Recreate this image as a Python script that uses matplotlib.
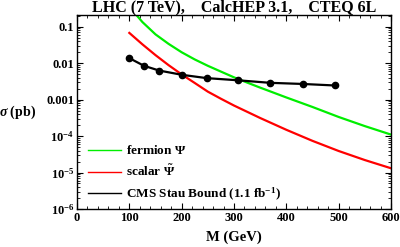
import matplotlib
matplotlib.use("Agg")
import matplotlib.pyplot as plt
from matplotlib.lines import Line2D
from matplotlib.ticker import FixedLocator, MultipleLocator, LogLocator, NullFormatter

# curves (M in GeV, sigma in pb)
m_fermion = [113, 125, 150, 175, 200, 225, 250, 275, 300, 325, 350, 375, 400, 450, 500, 550, 600]
sig_fermion = [0.215, 0.135, 0.062, 0.034, 0.020, 0.0127, 0.0085, 0.0059, 0.0041, 0.00295,
               0.00214, 0.00157, 0.00115, 0.00063, 0.000335, 0.000188, 0.00011]

m_scalar = [100, 125, 150, 175, 200, 225, 250, 275, 300, 350, 400, 450, 500, 550, 600]
sig_scalar = [0.068, 0.033, 0.0167, 0.00886, 0.00493, 0.00287, 0.00166, 0.00106, 0.00069,
              0.000314, 0.000149, 7.4e-5, 3.9e-5, 2.2e-5, 1.31e-5]

m_cms = [100, 128, 157, 201, 248, 308, 369, 431, 493]
sig_cms = [0.0138, 0.0085, 0.0063, 0.0048, 0.0039, 0.0034, 0.0029, 0.0027, 0.00245]

plt.rcParams['font.family'] = ['Liberation Serif', 'DejaVu Serif']
plt.rcParams['font.weight'] = 'bold'
plt.rcParams['mathtext.fontset'] = 'custom'
plt.rcParams['mathtext.rm'] = 'Liberation Serif:bold'
plt.rcParams['mathtext.it'] = 'Liberation Serif:italic:bold'
plt.rcParams['mathtext.bf'] = 'Liberation Serif:bold'

fig = plt.figure(figsize=(4, 2.47), dpi=100)
ax = fig.add_axes([0.1925, 0.154, 0.785, 0.785])

ax.plot(m_fermion, sig_fermion, color='#00ee00', lw=1.6)
ax.plot(m_scalar, sig_scalar, color='#ff0000', lw=1.6)
ax.plot(m_cms, sig_cms, color='black', lw=1.6, marker='o', ms=4.5)

ax.set_yscale('log')
ax.set_xlim(0, 600)
ax.set_ylim(1e-6, 0.21)

ax.xaxis.set_major_locator(MultipleLocator(100))
ax.xaxis.set_minor_locator(MultipleLocator(20))
ax.yaxis.set_major_locator(FixedLocator([1e-6, 1e-5, 1e-4, 1e-3, 1e-2, 1e-1]))
ax.yaxis.set_minor_locator(LogLocator(base=10, subs=range(2, 10)))
ax.yaxis.set_minor_formatter(NullFormatter())
ax.set_yticklabels([r'$10^{-6}$', r'$10^{-5}$', r'$10^{-4}$', '0.001', '0.01', '0.1'])

ax.tick_params(which='both', direction='in', top=True, right=True, labelsize=9, pad=2)
ax.tick_params(which='major', length=4, width=0.8)
ax.tick_params(which='minor', length=2, width=0.6)
for lab in ax.get_xticklabels() + ax.get_yticklabels():
    lab.set_fontweight('bold')
for s in ax.spines.values():
    s.set_linewidth(1.0)

ax.set_xlabel('M (GeV)', fontsize=10.5, fontweight='bold', labelpad=5)
ax.set_ylabel(r'$\sigma$ (pb)', fontsize=10, fontweight='bold', rotation=0, va='center')
ax.yaxis.set_label_coords(-0.19, 0.5)
ax.set_title('LHC (7 TeV),    CalcHEP 3.1,    CTEQ 6L', fontsize=11.5, fontweight='bold', pad=1)

handles = [Line2D([], [], color='#00ee00', lw=1.0),
           Line2D([], [], color='#ff0000', lw=1.0),
           Line2D([], [], color='black', lw=1.0)]
labels = [r'fermion $\Psi$', r'scalar $\tilde{\Psi}$', r'CMS Stau Bound (1.1 fb$^{-1}$)']
ax.legend(handles, labels, loc='lower left', frameon=False,
          prop={'size': 9.5, 'weight': 'bold'}, handlelength=2.5, handletextpad=0.4,
          borderaxespad=0.2, labelspacing=0.5, bbox_to_anchor=(0.01, -0.01))

fig.savefig('out.png', dpi=100)
